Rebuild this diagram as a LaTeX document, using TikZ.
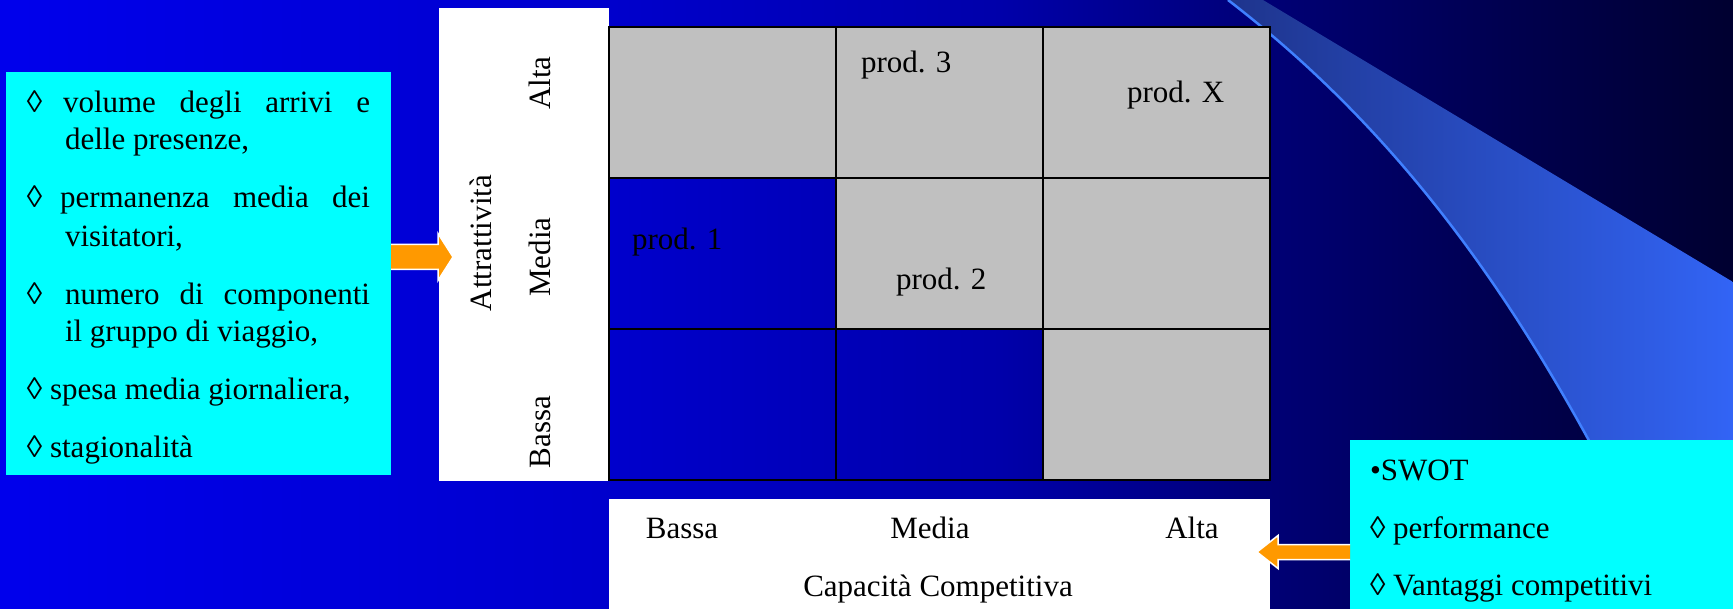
\documentclass[tikz,border=0pt]{standalone}
\usepackage{fontspec}
\setmainfont{Liberation Serif}
\usetikzlibrary{calc}
\definecolor{bgA}{RGB}{0,0,236}
\definecolor{bgB}{RGB}{0,0,205}
\definecolor{bgC}{RGB}{0,0,170}
\definecolor{bgD}{RGB}{0,0,120}
\definecolor{bgE}{RGB}{0,0,80}
\definecolor{bgF}{RGB}{0,0,48}
\definecolor{swA}{RGB}{30,52,140}
\definecolor{swB}{RGB}{50,100,245}
\definecolor{swL}{RGB}{64,128,255}
\definecolor{cellgray}{RGB}{192,192,192}
\definecolor{boxcyan}{RGB}{0,255,255}
\definecolor{arrorange}{RGB}{255,153,0}
\begin{document}
\begin{tikzpicture}[x=1pt,y=-1pt,
  txt/.style={font=\fontsize{31}{37}\selectfont, inner sep=0pt, outer sep=0pt, text=black},
  panel/.style={fill=white, draw=none, inner sep=0pt, outer sep=0pt, anchor=north west},
  cyanbox/.style={fill=boxcyan, draw=none, inner sep=0pt, outer sep=0pt, anchor=north west},
  gridcell/.style={draw=black, line width=2.2pt, inner sep=0pt, outer sep=0pt, anchor=north west},
  wideC/.style={minimum width=227pt},
  narrowC/.style={minimum width=207pt},
  rowH/.style={minimum height=151pt},
  barrowfill/.style={fill=arrorange, draw=none},
  barrowedge/.style={draw=white, line width=1.5pt, line join=miter}
]
\useasboundingbox (0,0) rectangle (1733,609);
% background
\shade[left color=bgA, right color=bgB] (0,0) rectangle (601,609);
\shade[left color=bgB, right color=bgC] (600,0) rectangle (1001,609);
\shade[left color=bgC, right color=bgD] (1000,0) rectangle (1251,609);
\shade[left color=bgD, right color=bgE] (1250,0) rectangle (1501,609);
\shade[left color=bgE, right color=bgF] (1500,0) rectangle (1733,609);
% swoosh
\shade[left color=swA, right color=swB] (1228,0) -- (1263,0) -- (1733,282) -- (1733,609) -- (1676,609)
  .. controls (1576,409) and (1462,180) .. (1228,0) -- cycle;
\draw[swL, line width=2.5pt] (1228,0) .. controls (1462,180) and (1576,409) .. (1676,609);

% panels
\node[panel, minimum width=170pt, minimum height=473pt] (vpanel) at (439,8) {};
\node[panel, minimum width=661pt, minimum height=111pt] (hpanel) at (609,499) {};
\node[cyanbox, minimum width=385pt, minimum height=403pt] (lbox) at (6,72) {};
\node[cyanbox, minimum width=383pt, minimum height=169pt] (rbox) at (1350,440) {};

% grid
\node[gridcell, wideC, rowH, fill=cellgray] (c11) at (609,27) {};
\node[gridcell, narrowC, rowH, fill=cellgray] (c12) at (836,27) {};
\node[gridcell, wideC, rowH, fill=cellgray] (c13) at (1043,27) {};
\node[gridcell, wideC, rowH] (c21) at (609,178) {};
\node[gridcell, narrowC, rowH, fill=cellgray] (c22) at (836,178) {};
\node[gridcell, wideC, rowH, fill=cellgray] (c23) at (1043,178) {};
\node[gridcell, wideC, rowH] (c31) at (609,329) {};
\node[gridcell, narrowC, rowH] (c32) at (836,329) {};
\node[gridcell, wideC, rowH, fill=cellgray] (c33) at (1043,329) {};

% grid labels
\node[txt, anchor=base west] (p3) at (861,73) {prod. 3};
\node[txt, anchor=base west] (pX) at (1127,103) {prod. X};
\node[txt, anchor=base west] (p1) at (632,250) {prod. 1};
\node[txt, anchor=base west] (p2) at (896,290) {prod. 2};

% vertical axis labels
\node[txt, rotate=90, anchor=base] (vAlta) at (550,83) {Alta};
\node[txt, rotate=90, anchor=base] (vMedia) at (550,257) {Media};
\node[txt, rotate=90, anchor=base] (vBassa) at (550,432) {Bassa};
\node[txt, rotate=90, anchor=base] (vTitle) at (491,243) {Attrattività};

% horizontal axis labels
\node[txt, anchor=base] (hBassa) at (682,538) {Bassa};
\node[txt, anchor=base] (hMedia) at (930,538) {Media};
\node[txt, anchor=base] (hAlta) at (1192,538) {Alta};
\node[txt, anchor=base] (hTitle) at (938,596) {Capacità Competitiva};

% left box text
\node[txt, anchor=base west] (d1) at (27,113) {◊};
\node[txt, anchor=base west] (t1a) at (63,113) {\makebox[307pt][s]{volume degli arrivi e}};
\node[txt, anchor=base west] (t1b) at (65,150) {delle presenze,};
\node[txt, anchor=base west] (d2) at (27,208) {◊};
\node[txt, anchor=base west] (t2a) at (60,208) {\makebox[310pt][s]{permanenza media dei}};
\node[txt, anchor=base west] (t2b) at (65,247) {visitatori,};
\node[txt, anchor=base west] (d3) at (27,305) {◊};
\node[txt, anchor=base west] (t3a) at (65,305) {\makebox[305pt][s]{numero di componenti}};
\node[txt, anchor=base west] (t3b) at (65,342) {il gruppo di viaggio,};
\node[txt, anchor=base west] (t4) at (27,400) {◊ spesa media giornaliera,};
\node[txt, anchor=base west] (t5) at (27,457) {◊ stagionalità};

% right box text
\node[txt, anchor=base west] (r1) at (1370,480) {•SWOT};
\node[txt, anchor=base west] (r2) at (1370,538) {◊ performance};
\node[txt, anchor=base west] (r3) at (1370,595) {◊ Vantaggi competitivi};

% block arrows
\coordinate (a1s) at (391,257);
\coordinate (a1t) at (453,257);
\fill[barrowfill] ($(a1s)+(0,-12.5)$) -- ($(a1t)+(-15,-12.5)$) -- ($(a1t)+(-15,-23.5)$) -- (a1t)
  -- ($(a1t)+(-15,23.5)$) -- ($(a1t)+(-15,12.5)$) -- ($(a1s)+(0,12.5)$) -- cycle;
\draw[barrowedge] ($(a1s)+(0,-12.5)$) -- ($(a1t)+(-15,-12.5)$) -- ($(a1t)+(-15,-23.5)$) -- (a1t)
  -- ($(a1t)+(-15,23.5)$) -- ($(a1t)+(-15,12.5)$) -- ($(a1s)+(0,12.5)$);
\coordinate (a2s) at (1350,552);
\coordinate (a2t) at (1257,552);
\fill[barrowfill] ($(a2s)+(0,-7.5)$) -- ($(a2t)+(21,-7.5)$) -- ($(a2t)+(21,-16.5)$) -- (a2t)
  -- ($(a2t)+(21,16.5)$) -- ($(a2t)+(21,7.5)$) -- ($(a2s)+(0,7.5)$) -- cycle;
\draw[barrowedge] ($(a2s)+(0,-7.5)$) -- ($(a2t)+(21,-7.5)$) -- ($(a2t)+(21,-16.5)$) -- (a2t)
  -- ($(a2t)+(21,16.5)$) -- ($(a2t)+(21,7.5)$) -- ($(a2s)+(0,7.5)$);
\end{tikzpicture}
\end{document}
